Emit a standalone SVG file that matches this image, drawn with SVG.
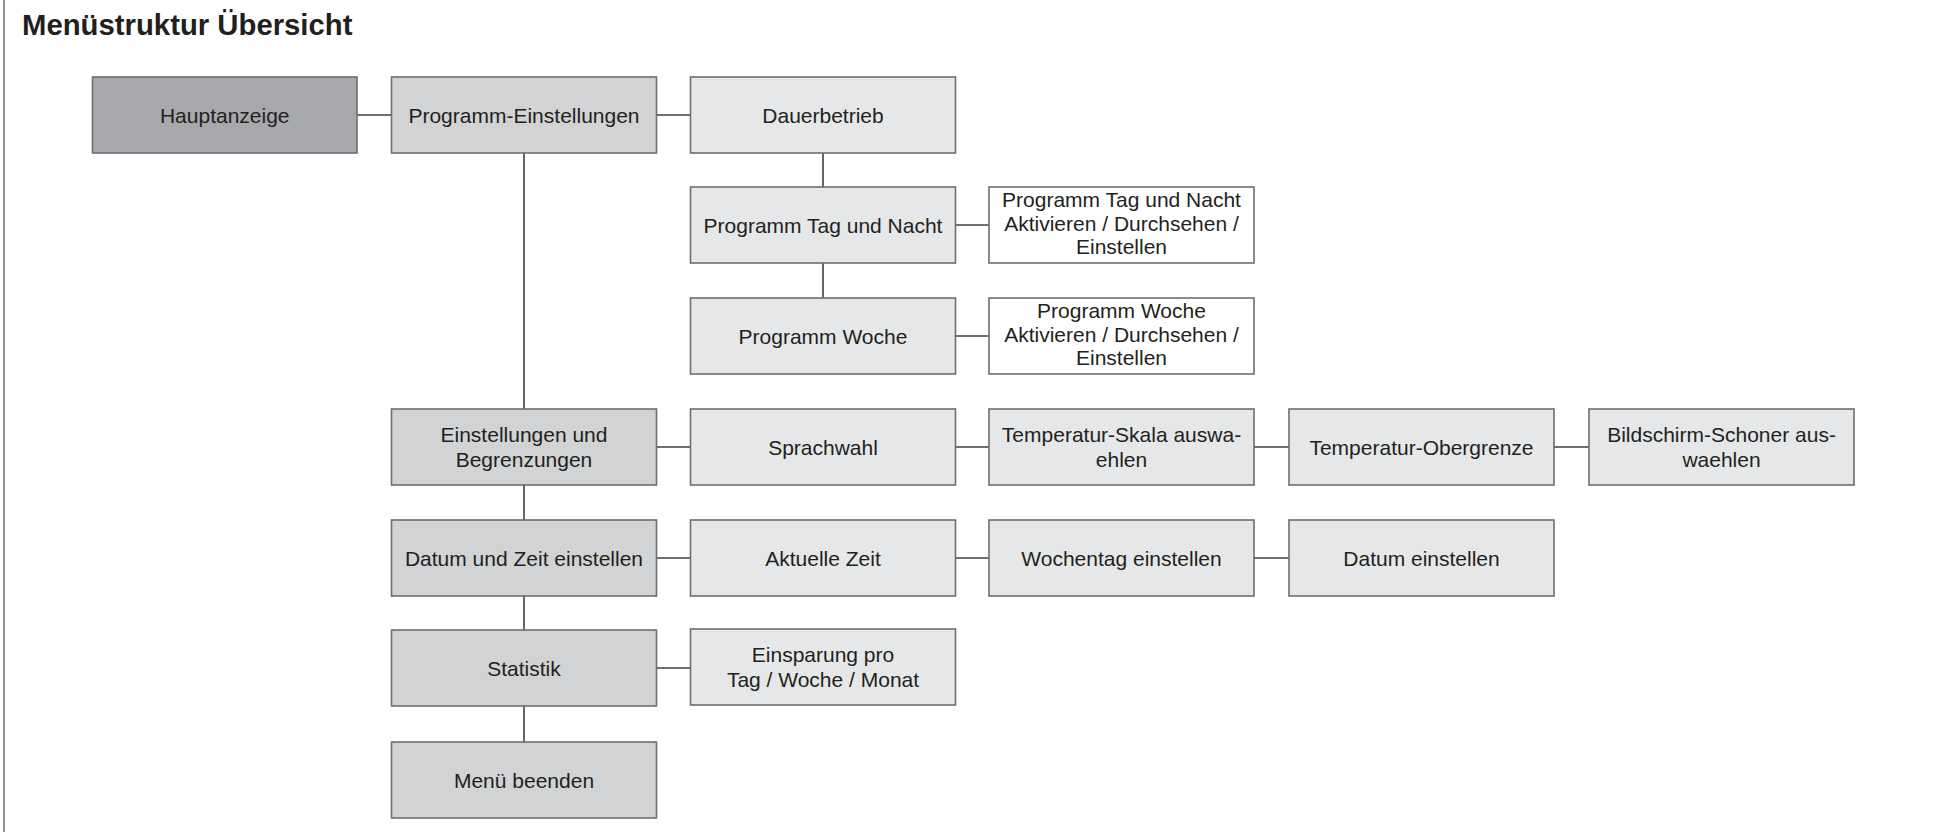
<svg xmlns="http://www.w3.org/2000/svg" width="1939" height="832" viewBox="0 0 1939 832">
<style>
.b{stroke:#6d6e71;stroke-width:1.6}
.d{fill:#a7a9ac}
.m{fill:#d1d3d4}
.l{fill:#e6e7e8}
.w{fill:#ffffff}
.t{font-family:"Liberation Sans",Arial,sans-serif;font-size:21px;fill:#231f20;text-anchor:middle}
.c{stroke:#414042;stroke-width:1.6;fill:none}
</style>
<rect width="1939" height="832" fill="#ffffff"/>
<line x1="4" y1="0" x2="4" y2="832" stroke="#6d6e71" stroke-width="1.5"/>
<text x="22" y="35" font-family="'Liberation Sans',Arial,sans-serif" font-weight="bold" font-size="29.3" fill="#231f20">Menüstruktur Übersicht</text>

<g id="connectors">
<path class="c" d="M357 115H391.5M656.5 115H690.5M524 153V409M524 485V520M524 596V630M524 706V742M823 153V187M823 263V298M955.5 225H989M955.5 336H989M656.5 447H690.5M955.5 447H989M1254 447H1289M1554 447H1589M656.5 558H690.5M955.5 558H989M1254 558H1289M656.5 668H690.5"/>
</g>

<g id="hauptanzeige"><rect class="b d" x="92.5" y="77" width="264.5" height="76"/><text class="t" x="224.75" y="123">Hauptanzeige</text></g>
<g id="programm-einstellungen"><rect class="b m" x="391.5" y="77" width="265" height="76"/><text class="t" x="524" y="123">Programm-Einstellungen</text></g>
<g id="dauerbetrieb"><rect class="b l" x="690.5" y="77" width="265" height="76"/><text class="t" x="823" y="123">Dauerbetrieb</text></g>

<g id="programm-tag-nacht"><rect class="b l" x="690.5" y="187" width="265" height="76"/><text class="t" x="823" y="233">Programm Tag und Nacht</text></g>
<g id="tag-nacht-details"><rect class="b w" x="989" y="187" width="265" height="76"/><text class="t" x="1121.5" y="207">Programm Tag und Nacht</text><text class="t" x="1121.5" y="230.5">Aktivieren / Durchsehen /</text><text class="t" x="1121.5" y="254">Einstellen</text></g>

<g id="programm-woche"><rect class="b l" x="690.5" y="298" width="265" height="76"/><text class="t" x="823" y="344">Programm Woche</text></g>
<g id="woche-details"><rect class="b w" x="989" y="298" width="265" height="76"/><text class="t" x="1121.5" y="318">Programm Woche</text><text class="t" x="1121.5" y="341.5">Aktivieren / Durchsehen /</text><text class="t" x="1121.5" y="365">Einstellen</text></g>

<g id="einstellungen-begrenzungen"><rect class="b m" x="391.5" y="409" width="265" height="76"/><text class="t" x="524" y="442">Einstellungen und</text><text class="t" x="524" y="467">Begrenzungen</text></g>
<g id="sprachwahl"><rect class="b l" x="690.5" y="409" width="265" height="76"/><text class="t" x="823" y="455">Sprachwahl</text></g>
<g id="temperatur-skala"><rect class="b l" x="989" y="409" width="265" height="76"/><text class="t" x="1121.5" y="442">Temperatur-Skala auswa-</text><text class="t" x="1121.5" y="467">ehlen</text></g>
<g id="temperatur-obergrenze"><rect class="b l" x="1289" y="409" width="265" height="76"/><text class="t" x="1421.5" y="455">Temperatur-Obergrenze</text></g>
<g id="bildschirm-schoner"><rect class="b l" x="1589" y="409" width="265" height="76"/><text class="t" x="1721.5" y="442">Bildschirm-Schoner aus-</text><text class="t" x="1721.5" y="467">waehlen</text></g>

<g id="datum-zeit"><rect class="b m" x="391.5" y="520" width="265" height="76"/><text class="t" x="524" y="566">Datum und Zeit einstellen</text></g>
<g id="aktuelle-zeit"><rect class="b l" x="690.5" y="520" width="265" height="76"/><text class="t" x="823" y="566">Aktuelle Zeit</text></g>
<g id="wochentag"><rect class="b l" x="989" y="520" width="265" height="76"/><text class="t" x="1121.5" y="566">Wochentag einstellen</text></g>
<g id="datum"><rect class="b l" x="1289" y="520" width="265" height="76"/><text class="t" x="1421.5" y="566">Datum einstellen</text></g>

<g id="statistik"><rect class="b m" x="391.5" y="630" width="265" height="76"/><text class="t" x="524" y="676">Statistik</text></g>
<g id="einsparung"><rect class="b l" x="690.5" y="629" width="265" height="76"/><text class="t" x="823" y="662">Einsparung pro</text><text class="t" x="823" y="687">Tag / Woche / Monat</text></g>

<g id="menu-beenden"><rect class="b m" x="391.5" y="742" width="265" height="76"/><text class="t" x="524" y="788">Menü beenden</text></g>
</svg>
